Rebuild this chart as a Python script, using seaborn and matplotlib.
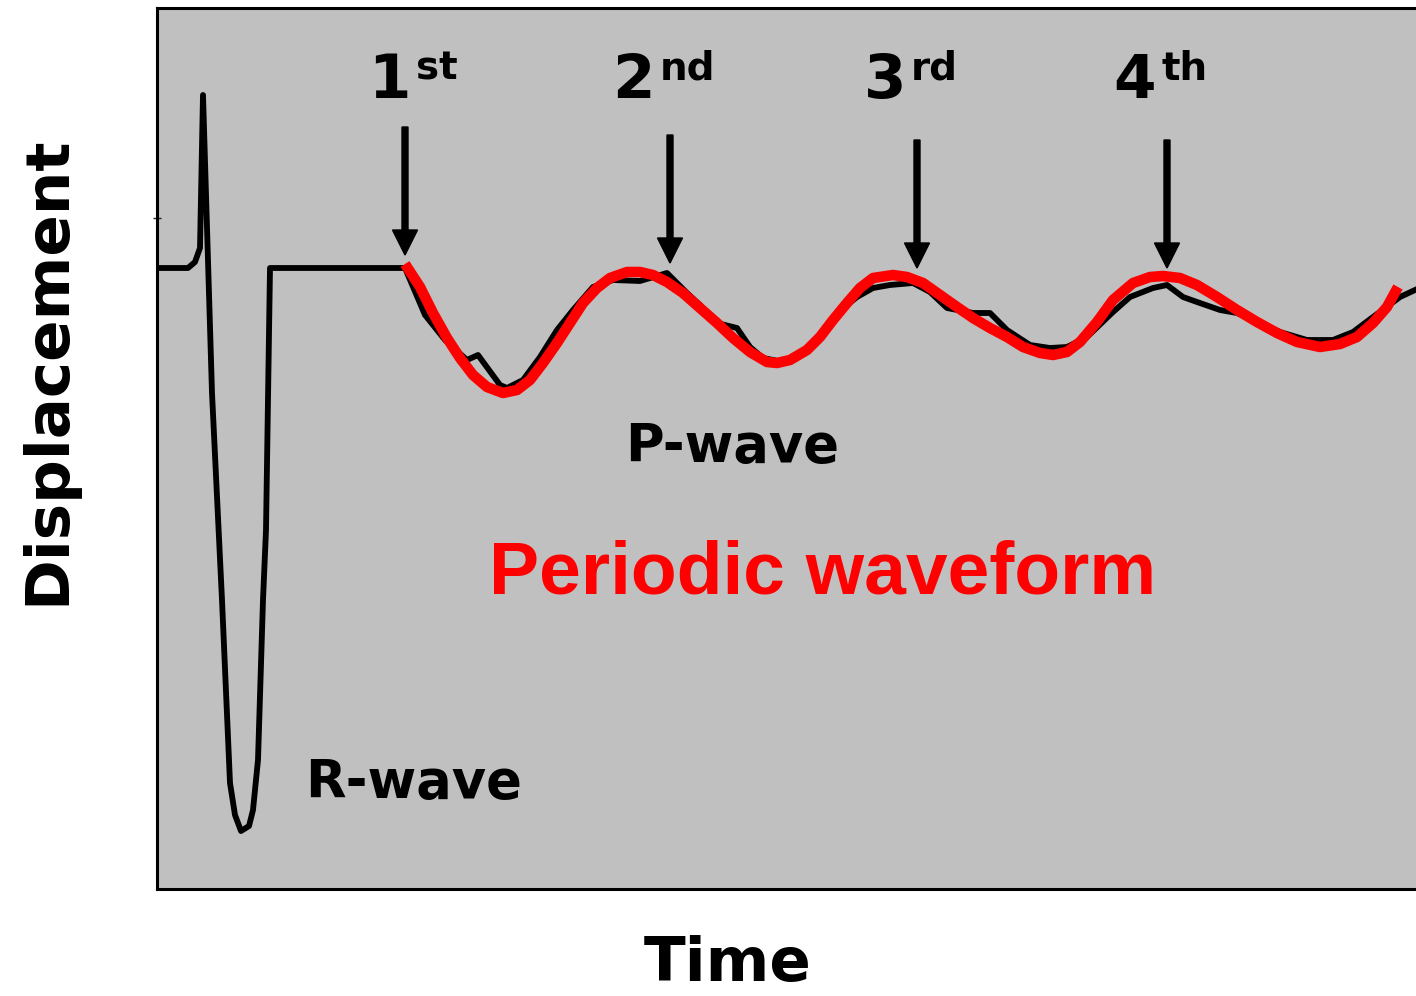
import matplotlib
matplotlib.use("Agg")
import matplotlib.pyplot as plt
import seaborn as sns
import pandas as pd

# recorded trace (time, displacement) - R-wave spike then P-wave ringing
trace_t = [0.00, 0.31, 0.38, 0.43, 0.46, 0.55, 0.65, 0.73, 0.78, 0.84, 0.92, 0.96,
           1.01, 1.06, 1.09, 1.13, 2.48,
           2.68, 2.88, 3.10, 3.21, 3.43, 3.50, 3.66, 3.83, 4.00, 4.16, 4.36, 4.56, 4.83,
           5.10, 5.30, 5.43, 5.60, 5.80, 5.93, 6.06, 6.26, 6.43, 6.60, 6.80, 7.00, 7.16,
           7.33, 7.56, 7.73, 7.90, 8.16, 8.33, 8.50, 8.73, 8.93, 9.10, 9.30, 9.56, 9.73,
           9.96, 10.10, 10.26, 10.40, 10.63, 10.80, 10.96, 11.23, 11.50, 11.76, 11.96,
           12.16, 12.43, 12.73]
trace_d = [0.00, 0.00, 0.06, 0.20, 1.73, -1.25, -3.32, -5.15, -5.47, -5.63, -5.58, -5.42,
           -4.92, -3.32, -2.62, 0.00, 0.00,
           -0.47, -0.72, -0.92, -0.87, -1.17, -1.20, -1.12, -0.89, -0.62, -0.42, -0.19, -0.12, -0.13,
           -0.05, -0.25, -0.37, -0.55, -0.60, -0.79, -0.90, -0.94, -0.87, -0.74, -0.45, -0.29, -0.20,
           -0.17, -0.15, -0.24, -0.40, -0.45, -0.45, -0.62, -0.77, -0.80, -0.79, -0.69, -0.44, -0.29,
           -0.20, -0.17, -0.29, -0.34, -0.42, -0.45, -0.52, -0.64, -0.72, -0.72, -0.64,
           -0.49, -0.29, -0.15]

# fitted periodic waveform
fit_t = [2.48, 2.63, 2.76, 2.90, 3.03, 3.16, 3.30, 3.46, 3.60, 3.73, 3.86, 4.00, 4.13,
         4.26, 4.40, 4.53, 4.70, 4.83, 4.96, 5.10, 5.26, 5.43, 5.60, 5.76, 5.93, 6.10,
         6.20, 6.33, 6.50, 6.63, 6.76, 6.90, 7.03, 7.16, 7.36, 7.50, 7.66, 7.83, 8.00,
         8.16, 8.33, 8.50, 8.66, 8.83, 8.96, 9.10, 9.23, 9.40, 9.56, 9.76, 9.93, 10.06,
         10.23, 10.40, 10.60, 10.80, 11.00, 11.20, 11.40, 11.63, 11.83, 12.00, 12.16,
         12.30, 12.41]
fit_d = [0.04, -0.19, -0.45, -0.70, -0.90, -1.07, -1.19, -1.25, -1.22, -1.12, -0.95, -0.75, -0.55,
         -0.35, -0.20, -0.10, -0.04, -0.04, -0.07, -0.14, -0.25, -0.40, -0.55, -0.70, -0.84, -0.94,
         -0.95, -0.92, -0.82, -0.69, -0.52, -0.35, -0.20, -0.10, -0.07, -0.09, -0.15, -0.27, -0.39,
         -0.50, -0.60, -0.69, -0.79, -0.85, -0.87, -0.84, -0.74, -0.54, -0.32, -0.15, -0.09, -0.08,
         -0.10, -0.17, -0.29, -0.42, -0.54, -0.65, -0.74, -0.79, -0.76, -0.69, -0.55,
         -0.39, -0.19]

# arrows marking successive peaks
peak_t = [2.48, 5.13, 7.60, 10.10]
peak_d = [0.13, 0.05, 0.00, 0.00]
peak_num = ["1", "2", "3", "4"]
peak_suffix = ["st", "nd", "rd", "th"]
label_shift = [0.06, -0.15, -0.11, -0.11]

trace = pd.DataFrame({"time": trace_t, "disp": trace_d})
fit = pd.DataFrame({"time": fit_t, "disp": fit_d})

sns.set_style("white", {"axes.facecolor": "#C0C0C0", "axes.edgecolor": "black",
                        "text.color": "black"})
plt.rcParams["font.family"] = ["DejaVu Sans"]
plt.rcParams["text.color"] = "black"

fig = plt.figure(figsize=(14.16, 9.96), dpi=100)
ax = fig.add_axes([157 / 1416, 107 / 996, 1290 / 1416, 881 / 996])

sns.lineplot(data=trace, x="time", y="disp", sort=False, estimator=None,
             color="black", linewidth=4.2, ax=ax, zorder=2)
sns.lineplot(data=fit, x="time", y="disp", sort=False, estimator=None,
             color="#FF0000", linewidth=7.6, ax=ax, zorder=3)
for line in ax.lines:
    line.set_solid_joinstyle("round")
ax.lines[1].set_solid_capstyle("butt")

for t, d, num, suf, dx in zip(peak_t, peak_d, peak_num, peak_suffix, label_shift):
    ax.arrow(t, d + 1.28, 0, -1.28, width=0.06, head_width=0.25, head_length=0.25,
             length_includes_head=True, color="black", zorder=4)
    ax.text(t + dx, 1.70, num, fontsize=44, fontweight="bold", ha="right", va="baseline")
    ax.text(t + dx + 0.05, 1.88, suf, fontsize=28, fontweight="bold", ha="left", va="baseline")

ax.text(5.75, -1.94, "P-wave", fontsize=38, fontweight="bold", ha="center", va="baseline")
ax.text(2.57, -5.30, "R-wave", fontsize=38, fontweight="bold", ha="center", va="baseline")
ax.text(6.66, -3.25, "Periodic waveform", fontsize=54, fontweight="bold", color="#FF0000",
        family=["Liberation Sans", "DejaVu Sans"], ha="center", va="baseline")

ax.set_xlim(0, 12.9)
ax.set_ylim(-6.21, 2.60)
ax.set_xticks([])
ax.set_yticks([0.5])
ax.set_yticklabels([])
ax.tick_params(axis="y", direction="inout", length=6, width=1, left=True)
ax.set_xlabel("")
ax.set_ylabel("")
for side in ["left", "top", "bottom"]:
    ax.spines[side].set_linewidth(2.2)
ax.spines["right"].set_visible(False)

fig.text(48 / 1416, 1 - 370 / 996, "Displacement", rotation=90, fontsize=44,
         fontweight="bold", ha="center", va="center")
fig.text(728 / 1416, 15 / 996, "Time", fontsize=44, fontweight="bold",
         ha="center", va="baseline")

fig.savefig("out.png", dpi=100)
